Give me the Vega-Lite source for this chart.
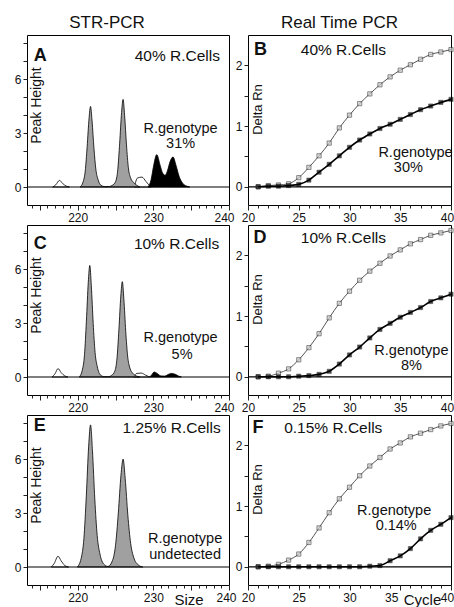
{
"$schema": "https://vega.github.io/schema/vega-lite/v6.json",
"padding": {"left": 13, "top": 13, "right": 0, "bottom": 0},
"config": {
 "font": "Liberation Sans",
 "view": {"stroke": "#000", "strokeWidth": 1},
 "axis": {"grid": false, "domain": false, "labelFontSize": 12, "labelColor": "#111", "tickColor": "#222", "labelFlush": false, "labelOverlap": false, "labelPadding": 2, "titleColor": "#111", "titleFontWeight": "normal", "tickCount": 60},
 "title": {"fontSize": 17, "fontWeight": "normal", "color": "#111"},
 "text": {"color": "#111"}
},
"datasets": {
 "str": [
  {"p":"A","s":"w","x":216.7,"y":0},{"p":"A","s":"w","x":217.1,"y":0.12},{"p":"A","s":"w","x":217.6,"y":0.37},{"p":"A","s":"w","x":218.0,"y":0.2},{"p":"A","s":"w","x":218.5,"y":0.05},{"p":"A","s":"w","x":218.9,"y":0},
  {"p":"A","s":"sh","x":227.5,"y":0},{"p":"A","s":"sh","x":227.9,"y":0.5},{"p":"A","s":"sh","x":228.5,"y":0.55},{"p":"A","s":"sh","x":229.0,"y":0.32},{"p":"A","s":"sh","x":229.4,"y":0.12},{"p":"A","s":"sh","x":229.7,"y":0},
  {"p":"A","s":"g","x":220.3,"y":0},{"p":"A","s":"g","x":220.7,"y":0.27},{"p":"A","s":"g","x":221.0,"y":0.9},{"p":"A","s":"g","x":221.25,"y":2.24},{"p":"A","s":"g","x":221.5,"y":3.81},{"p":"A","s":"g","x":221.7,"y":4.48},{"p":"A","s":"g","x":221.9,"y":3.67},{"p":"A","s":"g","x":222.15,"y":2.15},{"p":"A","s":"g","x":222.4,"y":0.99},{"p":"A","s":"g","x":222.7,"y":0.4},{"p":"A","s":"g","x":223.1,"y":0.09},{"p":"A","s":"g","x":223.6,"y":0.02},{"p":"A","s":"g","x":224.2,"y":0.03},{"p":"A","s":"g","x":224.6,"y":0.1},{"p":"A","s":"g","x":225.0,"y":0.29},{"p":"A","s":"g","x":225.3,"y":0.97},{"p":"A","s":"g","x":225.55,"y":2.44},{"p":"A","s":"g","x":225.8,"y":4.14},{"p":"A","s":"g","x":226.0,"y":4.87},{"p":"A","s":"g","x":226.2,"y":3.99},{"p":"A","s":"g","x":226.45,"y":2.34},{"p":"A","s":"g","x":226.7,"y":1.07},{"p":"A","s":"g","x":227.0,"y":0.5},{"p":"A","s":"g","x":227.4,"y":0.25},{"p":"A","s":"g","x":227.8,"y":0.1},{"p":"A","s":"g","x":228.2,"y":0},
  {"p":"A","s":"b","x":229.3,"y":0},{"p":"A","s":"b","x":229.7,"y":0.4},{"p":"A","s":"b","x":230.0,"y":1.1},{"p":"A","s":"b","x":230.45,"y":1.8},{"p":"A","s":"b","x":230.9,"y":1.2},{"p":"A","s":"b","x":231.2,"y":0.8},{"p":"A","s":"b","x":231.55,"y":0.65},{"p":"A","s":"b","x":231.9,"y":0.95},{"p":"A","s":"b","x":232.2,"y":1.4},{"p":"A","s":"b","x":232.6,"y":1.67},{"p":"A","s":"b","x":233.0,"y":1.2},{"p":"A","s":"b","x":233.4,"y":0.6},{"p":"A","s":"b","x":233.9,"y":0.2},{"p":"A","s":"b","x":234.4,"y":0.05},{"p":"A","s":"b","x":234.8,"y":0},
  {"p":"C","s":"w","x":216.6,"y":0},{"p":"C","s":"w","x":217.0,"y":0.18},{"p":"C","s":"w","x":217.4,"y":0.47},{"p":"C","s":"w","x":217.8,"y":0.25},{"p":"C","s":"w","x":218.3,"y":0.06},{"p":"C","s":"w","x":218.7,"y":0},
  {"p":"C","s":"sh","x":227.4,"y":0},{"p":"C","s":"sh","x":227.8,"y":0.2},{"p":"C","s":"sh","x":228.4,"y":0.22},{"p":"C","s":"sh","x":229.0,"y":0.1},{"p":"C","s":"sh","x":229.5,"y":0},
  {"p":"C","s":"g","x":220.2,"y":0},{"p":"C","s":"g","x":220.6,"y":0.37},{"p":"C","s":"g","x":220.9,"y":1.24},{"p":"C","s":"g","x":221.15,"y":3.1},{"p":"C","s":"g","x":221.4,"y":5.27},{"p":"C","s":"g","x":221.6,"y":6.2},{"p":"C","s":"g","x":221.8,"y":5.08},{"p":"C","s":"g","x":222.05,"y":2.98},{"p":"C","s":"g","x":222.3,"y":1.36},{"p":"C","s":"g","x":222.6,"y":0.56},{"p":"C","s":"g","x":223.0,"y":0.12},{"p":"C","s":"g","x":223.5,"y":0.02},{"p":"C","s":"g","x":224.1,"y":0.02},{"p":"C","s":"g","x":224.5,"y":0.1},{"p":"C","s":"g","x":224.9,"y":0.32},{"p":"C","s":"g","x":225.2,"y":1.06},{"p":"C","s":"g","x":225.45,"y":2.65},{"p":"C","s":"g","x":225.7,"y":4.5},{"p":"C","s":"g","x":225.9,"y":5.3},{"p":"C","s":"g","x":226.1,"y":4.35},{"p":"C","s":"g","x":226.35,"y":2.54},{"p":"C","s":"g","x":226.6,"y":1.17},{"p":"C","s":"g","x":226.9,"y":0.5},{"p":"C","s":"g","x":227.3,"y":0.2},{"p":"C","s":"g","x":227.8,"y":0.05},{"p":"C","s":"g","x":228.2,"y":0},
  {"p":"C","s":"b","x":229.5,"y":0},{"p":"C","s":"b","x":229.8,"y":0.12},{"p":"C","s":"b","x":230.1,"y":0.28},{"p":"C","s":"b","x":230.5,"y":0.2},{"p":"C","s":"b","x":231.0,"y":0.06},{"p":"C","s":"b","x":231.5,"y":0.05},{"p":"C","s":"b","x":231.9,"y":0.13},{"p":"C","s":"b","x":232.4,"y":0.2},{"p":"C","s":"b","x":232.9,"y":0.15},{"p":"C","s":"b","x":233.3,"y":0.06},{"p":"C","s":"b","x":233.7,"y":0},
  {"p":"E","s":"w","x":216.5,"y":0},{"p":"E","s":"w","x":216.9,"y":0.2},{"p":"E","s":"w","x":217.4,"y":0.6},{"p":"E","s":"w","x":217.8,"y":0.35},{"p":"E","s":"w","x":218.3,"y":0.08},{"p":"E","s":"w","x":218.8,"y":0},
  {"p":"E","s":"g","x":219.95,"y":0},{"p":"E","s":"g","x":220.45,"y":0.47},{"p":"E","s":"g","x":220.82,"y":1.58},{"p":"E","s":"g","x":221.14,"y":3.95},{"p":"E","s":"g","x":221.45,"y":6.72},{"p":"E","s":"g","x":221.7,"y":7.9},{"p":"E","s":"g","x":221.95,"y":6.48},{"p":"E","s":"g","x":222.26,"y":3.79},{"p":"E","s":"g","x":222.58,"y":1.74},{"p":"E","s":"g","x":222.95,"y":0.71},{"p":"E","s":"g","x":223.45,"y":0.16},{"p":"E","s":"g","x":224.0,"y":0.03},{"p":"E","s":"g","x":224.6,"y":0.36},{"p":"E","s":"g","x":225.0,"y":1.2},{"p":"E","s":"g","x":225.37,"y":3.0},{"p":"E","s":"g","x":225.72,"y":5.1},{"p":"E","s":"g","x":226.0,"y":6.0},{"p":"E","s":"g","x":226.28,"y":4.92},{"p":"E","s":"g","x":226.63,"y":2.88},{"p":"E","s":"g","x":227.0,"y":1.32},{"p":"E","s":"g","x":227.4,"y":0.54},{"p":"E","s":"g","x":228.0,"y":0.12},{"p":"E","s":"g","x":228.6,"y":0}
 ],
 "qpcr": [
  {"p":"B","s":"o","x":21,"y":0},{"p":"B","s":"o","x":22,"y":0.02},{"p":"B","s":"o","x":23,"y":0.03},{"p":"B","s":"o","x":24,"y":0.05},{"p":"B","s":"o","x":25,"y":0.15},{"p":"B","s":"o","x":26,"y":0.32},{"p":"B","s":"o","x":27,"y":0.51},{"p":"B","s":"o","x":28,"y":0.72},{"p":"B","s":"o","x":29,"y":0.97},{"p":"B","s":"o","x":30,"y":1.18},{"p":"B","s":"o","x":31,"y":1.37},{"p":"B","s":"o","x":32,"y":1.53},{"p":"B","s":"o","x":33,"y":1.68},{"p":"B","s":"o","x":34,"y":1.81},{"p":"B","s":"o","x":35,"y":1.92},{"p":"B","s":"o","x":36,"y":2.01},{"p":"B","s":"o","x":37,"y":2.1},{"p":"B","s":"o","x":38,"y":2.18},{"p":"B","s":"o","x":39,"y":2.22},{"p":"B","s":"o","x":40,"y":2.26},
  {"p":"B","s":"f","x":21,"y":0},{"p":"B","s":"f","x":22,"y":0.01},{"p":"B","s":"f","x":23,"y":0.01},{"p":"B","s":"f","x":24,"y":0.02},{"p":"B","s":"f","x":25,"y":0.04},{"p":"B","s":"f","x":26,"y":0.11},{"p":"B","s":"f","x":27,"y":0.24},{"p":"B","s":"f","x":28,"y":0.37},{"p":"B","s":"f","x":29,"y":0.51},{"p":"B","s":"f","x":30,"y":0.65},{"p":"B","s":"f","x":31,"y":0.77},{"p":"B","s":"f","x":32,"y":0.87},{"p":"B","s":"f","x":33,"y":0.96},{"p":"B","s":"f","x":34,"y":1.03},{"p":"B","s":"f","x":35,"y":1.11},{"p":"B","s":"f","x":36,"y":1.19},{"p":"B","s":"f","x":37,"y":1.27},{"p":"B","s":"f","x":38,"y":1.33},{"p":"B","s":"f","x":39,"y":1.39},{"p":"B","s":"f","x":40,"y":1.44},
  {"p":"D","s":"o","x":21,"y":0},{"p":"D","s":"o","x":22,"y":0.01},{"p":"D","s":"o","x":23,"y":0.06},{"p":"D","s":"o","x":24,"y":0.13},{"p":"D","s":"o","x":25,"y":0.28},{"p":"D","s":"o","x":26,"y":0.48},{"p":"D","s":"o","x":27,"y":0.71},{"p":"D","s":"o","x":28,"y":0.97},{"p":"D","s":"o","x":29,"y":1.21},{"p":"D","s":"o","x":30,"y":1.41},{"p":"D","s":"o","x":31,"y":1.59},{"p":"D","s":"o","x":32,"y":1.74},{"p":"D","s":"o","x":33,"y":1.87},{"p":"D","s":"o","x":34,"y":1.99},{"p":"D","s":"o","x":35,"y":2.09},{"p":"D","s":"o","x":36,"y":2.19},{"p":"D","s":"o","x":37,"y":2.26},{"p":"D","s":"o","x":38,"y":2.33},{"p":"D","s":"o","x":39,"y":2.37},{"p":"D","s":"o","x":40,"y":2.41},
  {"p":"D","s":"f","x":21,"y":0},{"p":"D","s":"f","x":22,"y":0},{"p":"D","s":"f","x":23,"y":0},{"p":"D","s":"f","x":24,"y":0},{"p":"D","s":"f","x":25,"y":0.01},{"p":"D","s":"f","x":26,"y":0.02},{"p":"D","s":"f","x":27,"y":0.04},{"p":"D","s":"f","x":28,"y":0.09},{"p":"D","s":"f","x":29,"y":0.21},{"p":"D","s":"f","x":30,"y":0.36},{"p":"D","s":"f","x":31,"y":0.49},{"p":"D","s":"f","x":32,"y":0.64},{"p":"D","s":"f","x":33,"y":0.78},{"p":"D","s":"f","x":34,"y":0.88},{"p":"D","s":"f","x":35,"y":0.98},{"p":"D","s":"f","x":36,"y":1.06},{"p":"D","s":"f","x":37,"y":1.14},{"p":"D","s":"f","x":38,"y":1.24},{"p":"D","s":"f","x":39,"y":1.3},{"p":"D","s":"f","x":40,"y":1.36},
  {"p":"F","s":"o","x":21,"y":0},{"p":"F","s":"o","x":22,"y":0.01},{"p":"F","s":"o","x":23,"y":0.04},{"p":"F","s":"o","x":24,"y":0.11},{"p":"F","s":"o","x":25,"y":0.21},{"p":"F","s":"o","x":26,"y":0.4},{"p":"F","s":"o","x":27,"y":0.64},{"p":"F","s":"o","x":28,"y":0.89},{"p":"F","s":"o","x":29,"y":1.12},{"p":"F","s":"o","x":30,"y":1.31},{"p":"F","s":"o","x":31,"y":1.5},{"p":"F","s":"o","x":32,"y":1.66},{"p":"F","s":"o","x":33,"y":1.8},{"p":"F","s":"o","x":34,"y":1.94},{"p":"F","s":"o","x":35,"y":2.04},{"p":"F","s":"o","x":36,"y":2.14},{"p":"F","s":"o","x":37,"y":2.2},{"p":"F","s":"o","x":38,"y":2.26},{"p":"F","s":"o","x":39,"y":2.32},{"p":"F","s":"o","x":40,"y":2.36},
  {"p":"F","s":"f","x":21,"y":0},{"p":"F","s":"f","x":22,"y":0},{"p":"F","s":"f","x":23,"y":0},{"p":"F","s":"f","x":24,"y":0},{"p":"F","s":"f","x":25,"y":0},{"p":"F","s":"f","x":26,"y":0},{"p":"F","s":"f","x":27,"y":0},{"p":"F","s":"f","x":28,"y":0},{"p":"F","s":"f","x":29,"y":0},{"p":"F","s":"f","x":30,"y":0},{"p":"F","s":"f","x":31,"y":0},{"p":"F","s":"f","x":32,"y":0.01},{"p":"F","s":"f","x":33,"y":0.02},{"p":"F","s":"f","x":34,"y":0.1},{"p":"F","s":"f","x":35,"y":0.18},{"p":"F","s":"f","x":36,"y":0.3},{"p":"F","s":"f","x":37,"y":0.46},{"p":"F","s":"f","x":38,"y":0.6},{"p":"F","s":"f","x":39,"y":0.7},{"p":"F","s":"f","x":40,"y":0.81}
 ],
 "notes": [
  {"p":"A","k":"l","x":214.2,"y":7.3,"t":"A"},{"p":"A","k":"c","x":238.8,"y":7.3,"t":"40% R.Cells"},{"p":"A","k":"g","x":233.6,"y":3.2,"t":"R.genotype"},{"p":"A","k":"g","x":233.6,"y":2.4,"t":"31%"},
  {"p":"C","k":"l","x":214.2,"y":7.4,"t":"C"},{"p":"C","k":"c","x":238.7,"y":7.4,"t":"10% R.Cells"},{"p":"C","k":"g","x":233.6,"y":2.15,"t":"R.genotype"},{"p":"C","k":"g","x":233.8,"y":1.25,"t":"5%"},
  {"p":"E","k":"l","x":214.2,"y":7.85,"t":"E"},{"p":"E","k":"c","x":238.9,"y":7.75,"t":"1.25% R.Cells"},{"p":"E","k":"g","x":234.2,"y":1.55,"t":"R.genotype"},{"p":"E","k":"g","x":234.2,"y":0.65,"t":"undetected"},
  {"p":"B","k":"l","x":20.6,"y":2.25,"t":"B"},{"p":"B","k":"c","x":29.4,"y":2.25,"t":"40% R.Cells"},{"p":"B","k":"g","x":36.5,"y":0.55,"t":"R.genotype"},{"p":"B","k":"g","x":35.8,"y":0.31,"t":"30%"},
  {"p":"D","k":"l","x":20.55,"y":2.28,"t":"D"},{"p":"D","k":"c","x":29.4,"y":2.28,"t":"10% R.Cells"},{"p":"D","k":"g","x":36.1,"y":0.43,"t":"R.genotype"},{"p":"D","k":"g","x":36.1,"y":0.18,"t":"8%"},
  {"p":"F","k":"l","x":20.45,"y":2.29,"t":"F"},{"p":"F","k":"c","x":28.4,"y":2.29,"t":"0.15% R.Cells"},{"p":"F","k":"g","x":34.4,"y":0.92,"t":"R.genotype"},{"p":"F","k":"g","x":34.6,"y":0.67,"t":"0.14%"}
 ]
},
"columns": 2,
"spacing": {"row": 20, "column": 19},
"bounds": "flush",
"concat": [
 {"width": 202, "height": 170,
  "title": {"text": "STR-PCR", "anchor": "middle", "dx": -21, "offset": 3},
  "layer": [
   {"data": {"name": "str"}, "transform": [{"filter": "datum.p == 'A' && (datum.s == 'w' || datum.s == 'sh')"}],
    "mark": {"type": "area", "interpolate": "monotone", "fill": "#fff", "stroke": "#000", "strokeWidth": 0.8, "clip": true},
    "encoding": {
     "x": {"field": "x", "type": "quantitative", "scale": {"domain": [213.3, 240], "nice": false}, "axis": {"values": [214,215,216,217,218,219,220,221,222,223,224,225,226,227,228,229,230,231,232,233,234,235,236,237,238,239,240], "tickCount": 60, "labelOverlap": false, "labelExpr": "datum.value % 10 == 0 ? format(datum.value, 'd') : ''", "labelOffset": {"condition": {"test": "datum.value == 240", "value": -5}, "value": 0}, "tickSize": {"condition": {"test": "datum.value % 5 == 0", "value": 5}, "value": 3}, "title": null}},
     "y": {"field": "y", "type": "quantitative", "stack": null, "scale": {"domain": [-1, 8.45], "nice": false}, "axis": {"values": [0,1,2,3,4,5,6,7,8], "tickCount": 60, "labelOverlap": false, "labelExpr": "datum.value % 3 == 0 ? format(datum.value, 'd') : ''", "tickSize": 4, "title": "Peak Height", "titleX": 9, "titleY": 70, "titleAngle": -90, "titleAlign": "center", "titleBaseline": "middle", "titleFontSize": 14}},
     "detail": {"field": "s"}}},
   {"data": {"name": "str"}, "transform": [{"filter": "datum.p == 'A' && datum.s == 'g'"}],
    "mark": {"type": "area", "interpolate": "monotone", "fill": "#a0a0a0", "stroke": "#000", "strokeWidth": 0.8, "clip": true},
    "encoding": {"x": {"field": "x", "type": "quantitative"}, "y": {"field": "y", "type": "quantitative", "stack": null}}},
   {"data": {"name": "str"}, "transform": [{"filter": "datum.p == 'A' && datum.s == 'b'"}],
    "mark": {"type": "area", "interpolate": "monotone", "fill": "#000", "stroke": "#000", "strokeWidth": 0.8, "clip": true},
    "encoding": {"x": {"field": "x", "type": "quantitative"}, "y": {"field": "y", "type": "quantitative", "stack": null}}},
   {"data": {"name": "notes"}, "transform": [{"filter": "datum.p == 'A' && datum.k == 'l'"}],
    "mark": {"type": "rule", "color": "#000", "strokeWidth": 1.2},
    "encoding": {"y": {"datum": 0, "type": "quantitative"}}},
   {"data": {"name": "notes"}, "transform": [{"filter": "datum.p == 'A' && datum.k == 'l'"}],
    "mark": {"type": "text", "align": "left", "baseline": "middle", "fontSize": 18, "fontWeight": "bold"},
    "encoding": {"x": {"field": "x", "type": "quantitative"}, "y": {"field": "y", "type": "quantitative"}, "text": {"field": "t"}}},
   {"data": {"name": "notes"}, "transform": [{"filter": "datum.p == 'A' && datum.k == 'c'"}],
    "mark": {"type": "text", "align": "right", "baseline": "middle", "fontSize": 15.5},
    "encoding": {"x": {"field": "x", "type": "quantitative"}, "y": {"field": "y", "type": "quantitative"}, "text": {"field": "t"}}},
   {"data": {"name": "notes"}, "transform": [{"filter": "datum.p == 'A' && datum.k == 'g'"}],
    "mark": {"type": "text", "align": "center", "baseline": "middle", "fontSize": 14.5},
    "encoding": {"x": {"field": "x", "type": "quantitative"}, "y": {"field": "y", "type": "quantitative"}, "text": {"field": "t"}}}
  ]},
 {"width": 203, "height": 170,
  "title": {"text": "Real Time PCR", "anchor": "middle", "dx": -10, "offset": 3},
  "layer": [
   {"data": {"name": "qpcr"}, "transform": [{"filter": "datum.p == 'B' && datum.s == 'o'"}],
    "mark": {"type": "line", "interpolate": "monotone", "color": "#555", "strokeWidth": 1},
    "encoding": {
     "x": {"field": "x", "type": "quantitative", "scale": {"domain": [20, 40], "nice": false}, "axis": {"values": [20,21,22,23,24,25,26,27,28,29,30,31,32,33,34,35,36,37,38,39,40], "tickCount": 60, "labelOverlap": false, "labelExpr": "datum.value % 5 == 0 ? format(datum.value, 'd') : ''", "labelOffset": {"condition": {"test": "datum.value == 40", "value": -4}, "value": 0}, "tickSize": {"condition": {"test": "datum.value % 5 == 0", "value": 5}, "value": 3}, "title": null}},
     "y": {"field": "y", "type": "quantitative", "scale": {"domain": [-0.3, 2.5], "nice": false}, "axis": {"values": [0,0.5,1,1.5,2], "tickCount": 60, "labelOverlap": false, "labelExpr": "datum.value % 1 == 0 ? format(datum.value, 'd') : ''", "tickSize": 4, "title": "Delta Rn", "titleX": 9, "titleY": 74, "titleAngle": -90, "titleAlign": "center", "titleBaseline": "middle", "titleFontSize": 13}}}},
   {"data": {"name": "notes"}, "transform": [{"filter": "datum.p == 'B' && datum.k == 'l'"}],
    "mark": {"type": "rule", "color": "#000", "strokeWidth": 1.2},
    "encoding": {"y": {"datum": 0, "type": "quantitative"}}},
   {"data": {"name": "qpcr"}, "transform": [{"filter": "datum.p == 'B' && datum.s == 'o'"}],
    "mark": {"type": "point", "shape": "square", "size": 18, "filled": true, "fill": "#cfcfcf", "stroke": "#333", "strokeWidth": 0.8},
    "encoding": {"x": {"field": "x", "type": "quantitative"}, "y": {"field": "y", "type": "quantitative"}}},
   {"data": {"name": "qpcr"}, "transform": [{"filter": "datum.p == 'B' && datum.s == 'f'"}],
    "mark": {"type": "line", "interpolate": "monotone", "color": "#000", "strokeWidth": 1.6},
    "encoding": {"x": {"field": "x", "type": "quantitative"}, "y": {"field": "y", "type": "quantitative"}}},
   {"data": {"name": "qpcr"}, "transform": [{"filter": "datum.p == 'B' && datum.s == 'f'"}],
    "mark": {"type": "point", "shape": "square", "size": 18, "filled": true, "fill": "#000", "stroke": "#000", "strokeWidth": 0.5},
    "encoding": {"x": {"field": "x", "type": "quantitative"}, "y": {"field": "y", "type": "quantitative"}}},
   {"data": {"name": "notes"}, "transform": [{"filter": "datum.p == 'B' && datum.k == 'l'"}],
    "mark": {"type": "text", "align": "left", "baseline": "middle", "fontSize": 18, "fontWeight": "bold"},
    "encoding": {"x": {"field": "x", "type": "quantitative"}, "y": {"field": "y", "type": "quantitative"}, "text": {"field": "t"}}},
   {"data": {"name": "notes"}, "transform": [{"filter": "datum.p == 'B' && datum.k == 'c'"}],
    "mark": {"type": "text", "align": "center", "baseline": "middle", "fontSize": 15.5},
    "encoding": {"x": {"field": "x", "type": "quantitative"}, "y": {"field": "y", "type": "quantitative"}, "text": {"field": "t"}}},
   {"data": {"name": "notes"}, "transform": [{"filter": "datum.p == 'B' && datum.k == 'g'"}],
    "mark": {"type": "text", "align": "center", "baseline": "middle", "fontSize": 14.5},
    "encoding": {"x": {"field": "x", "type": "quantitative"}, "y": {"field": "y", "type": "quantitative"}, "text": {"field": "t"}}}
  ]},
 {"width": 202, "height": 170,
  "layer": [
   {"data": {"name": "str"}, "transform": [{"filter": "datum.p == 'C' && (datum.s == 'w' || datum.s == 'sh')"}],
    "mark": {"type": "area", "interpolate": "monotone", "fill": "#fff", "stroke": "#000", "strokeWidth": 0.8, "clip": true},
    "encoding": {
     "x": {"field": "x", "type": "quantitative", "scale": {"domain": [213.3, 240], "nice": false}, "axis": {"values": [214,215,216,217,218,219,220,221,222,223,224,225,226,227,228,229,230,231,232,233,234,235,236,237,238,239,240], "tickCount": 60, "labelOverlap": false, "labelExpr": "datum.value % 10 == 0 ? format(datum.value, 'd') : ''", "labelOffset": {"condition": {"test": "datum.value == 240", "value": -5}, "value": 0}, "tickSize": {"condition": {"test": "datum.value % 5 == 0", "value": 5}, "value": 3}, "title": null}},
     "y": {"field": "y", "type": "quantitative", "stack": null, "scale": {"domain": [-1, 8.45], "nice": false}, "axis": {"values": [0,1,2,3,4,5,6,7,8], "tickCount": 60, "labelOverlap": false, "labelExpr": "datum.value % 3 == 0 ? format(datum.value, 'd') : ''", "tickSize": 4, "title": "Peak Height", "titleX": 9, "titleY": 70, "titleAngle": -90, "titleAlign": "center", "titleBaseline": "middle", "titleFontSize": 14}},
     "detail": {"field": "s"}}},
   {"data": {"name": "str"}, "transform": [{"filter": "datum.p == 'C' && datum.s == 'g'"}],
    "mark": {"type": "area", "interpolate": "monotone", "fill": "#a0a0a0", "stroke": "#000", "strokeWidth": 0.8, "clip": true},
    "encoding": {"x": {"field": "x", "type": "quantitative"}, "y": {"field": "y", "type": "quantitative", "stack": null}}},
   {"data": {"name": "str"}, "transform": [{"filter": "datum.p == 'C' && datum.s == 'b'"}],
    "mark": {"type": "area", "interpolate": "monotone", "fill": "#000", "stroke": "#000", "strokeWidth": 0.8, "clip": true},
    "encoding": {"x": {"field": "x", "type": "quantitative"}, "y": {"field": "y", "type": "quantitative", "stack": null}}},
   {"data": {"name": "notes"}, "transform": [{"filter": "datum.p == 'C' && datum.k == 'l'"}],
    "mark": {"type": "rule", "color": "#000", "strokeWidth": 1.2},
    "encoding": {"y": {"datum": 0, "type": "quantitative"}}},
   {"data": {"name": "notes"}, "transform": [{"filter": "datum.p == 'C' && datum.k == 'l'"}],
    "mark": {"type": "text", "align": "left", "baseline": "middle", "fontSize": 18, "fontWeight": "bold"},
    "encoding": {"x": {"field": "x", "type": "quantitative"}, "y": {"field": "y", "type": "quantitative"}, "text": {"field": "t"}}},
   {"data": {"name": "notes"}, "transform": [{"filter": "datum.p == 'C' && datum.k == 'c'"}],
    "mark": {"type": "text", "align": "right", "baseline": "middle", "fontSize": 15.5},
    "encoding": {"x": {"field": "x", "type": "quantitative"}, "y": {"field": "y", "type": "quantitative"}, "text": {"field": "t"}}},
   {"data": {"name": "notes"}, "transform": [{"filter": "datum.p == 'C' && datum.k == 'g'"}],
    "mark": {"type": "text", "align": "center", "baseline": "middle", "fontSize": 14.5},
    "encoding": {"x": {"field": "x", "type": "quantitative"}, "y": {"field": "y", "type": "quantitative"}, "text": {"field": "t"}}}
  ]},
 {"width": 203, "height": 170,
  "layer": [
   {"data": {"name": "qpcr"}, "transform": [{"filter": "datum.p == 'D' && datum.s == 'o'"}],
    "mark": {"type": "line", "interpolate": "monotone", "color": "#555", "strokeWidth": 1},
    "encoding": {
     "x": {"field": "x", "type": "quantitative", "scale": {"domain": [20, 40], "nice": false}, "axis": {"values": [20,21,22,23,24,25,26,27,28,29,30,31,32,33,34,35,36,37,38,39,40], "tickCount": 60, "labelOverlap": false, "labelExpr": "datum.value % 5 == 0 ? format(datum.value, 'd') : ''", "labelOffset": {"condition": {"test": "datum.value == 40", "value": -4}, "value": 0}, "tickSize": {"condition": {"test": "datum.value % 5 == 0", "value": 5}, "value": 3}, "title": null}},
     "y": {"field": "y", "type": "quantitative", "scale": {"domain": [-0.3, 2.5], "nice": false}, "axis": {"values": [0,0.5,1,1.5,2], "tickCount": 60, "labelOverlap": false, "labelExpr": "datum.value % 1 == 0 ? format(datum.value, 'd') : ''", "tickSize": 4, "title": "Delta Rn", "titleX": 9, "titleY": 74, "titleAngle": -90, "titleAlign": "center", "titleBaseline": "middle", "titleFontSize": 13}}}},
   {"data": {"name": "notes"}, "transform": [{"filter": "datum.p == 'D' && datum.k == 'l'"}],
    "mark": {"type": "rule", "color": "#000", "strokeWidth": 1.2},
    "encoding": {"y": {"datum": 0, "type": "quantitative"}}},
   {"data": {"name": "qpcr"}, "transform": [{"filter": "datum.p == 'D' && datum.s == 'o'"}],
    "mark": {"type": "point", "shape": "square", "size": 18, "filled": true, "fill": "#cfcfcf", "stroke": "#333", "strokeWidth": 0.8},
    "encoding": {"x": {"field": "x", "type": "quantitative"}, "y": {"field": "y", "type": "quantitative"}}},
   {"data": {"name": "qpcr"}, "transform": [{"filter": "datum.p == 'D' && datum.s == 'f'"}],
    "mark": {"type": "line", "interpolate": "monotone", "color": "#000", "strokeWidth": 1.6},
    "encoding": {"x": {"field": "x", "type": "quantitative"}, "y": {"field": "y", "type": "quantitative"}}},
   {"data": {"name": "qpcr"}, "transform": [{"filter": "datum.p == 'D' && datum.s == 'f'"}],
    "mark": {"type": "point", "shape": "square", "size": 18, "filled": true, "fill": "#000", "stroke": "#000", "strokeWidth": 0.5},
    "encoding": {"x": {"field": "x", "type": "quantitative"}, "y": {"field": "y", "type": "quantitative"}}},
   {"data": {"name": "notes"}, "transform": [{"filter": "datum.p == 'D' && datum.k == 'l'"}],
    "mark": {"type": "text", "align": "left", "baseline": "middle", "fontSize": 18, "fontWeight": "bold"},
    "encoding": {"x": {"field": "x", "type": "quantitative"}, "y": {"field": "y", "type": "quantitative"}, "text": {"field": "t"}}},
   {"data": {"name": "notes"}, "transform": [{"filter": "datum.p == 'D' && datum.k == 'c'"}],
    "mark": {"type": "text", "align": "center", "baseline": "middle", "fontSize": 15.5},
    "encoding": {"x": {"field": "x", "type": "quantitative"}, "y": {"field": "y", "type": "quantitative"}, "text": {"field": "t"}}},
   {"data": {"name": "notes"}, "transform": [{"filter": "datum.p == 'D' && datum.k == 'g'"}],
    "mark": {"type": "text", "align": "center", "baseline": "middle", "fontSize": 14.5},
    "encoding": {"x": {"field": "x", "type": "quantitative"}, "y": {"field": "y", "type": "quantitative"}, "text": {"field": "t"}}}
  ]},
 {"width": 202, "height": 170,
  "layer": [
   {"data": {"name": "str"}, "transform": [{"filter": "datum.p == 'E' && datum.s == 'w'"}],
    "mark": {"type": "area", "interpolate": "monotone", "fill": "#fff", "stroke": "#000", "strokeWidth": 0.8, "clip": true},
    "encoding": {
     "x": {"field": "x", "type": "quantitative", "scale": {"domain": [213.3, 240], "nice": false}, "axis": {"values": [214,215,216,217,218,219,220,221,222,223,224,225,226,227,228,229,230,231,232,233,234,235,236,237,238,239,240], "tickCount": 60, "labelOverlap": false, "labelExpr": "datum.value % 10 == 0 ? format(datum.value, 'd') : ''", "labelOffset": {"condition": {"test": "datum.value == 240", "value": -3}, "value": 0}, "tickSize": {"condition": {"test": "datum.value % 5 == 0", "value": 5}, "value": 3}, "title": "Size", "titleX": 161.5, "titleY": 19, "titleAngle": 0, "titleAlign": "center", "titleBaseline": "alphabetic", "titleFontSize": 15}},
     "y": {"field": "y", "type": "quantitative", "stack": null, "scale": {"domain": [-1, 8.45], "nice": false}, "axis": {"values": [0,1,2,3,4,5,6,7,8], "tickCount": 60, "labelOverlap": false, "labelExpr": "datum.value % 3 == 0 ? format(datum.value, 'd') : ''", "tickSize": 4, "title": "Peak Height", "titleX": 9, "titleY": 70, "titleAngle": -90, "titleAlign": "center", "titleBaseline": "middle", "titleFontSize": 14}}}},
   {"data": {"name": "str"}, "transform": [{"filter": "datum.p == 'E' && datum.s == 'g'"}],
    "mark": {"type": "area", "interpolate": "monotone", "fill": "#a0a0a0", "stroke": "#000", "strokeWidth": 0.8, "clip": true},
    "encoding": {"x": {"field": "x", "type": "quantitative"}, "y": {"field": "y", "type": "quantitative", "stack": null}}},
   {"data": {"name": "notes"}, "transform": [{"filter": "datum.p == 'E' && datum.k == 'l'"}],
    "mark": {"type": "rule", "color": "#000", "strokeWidth": 1.2},
    "encoding": {"y": {"datum": 0, "type": "quantitative"}}},
   {"data": {"name": "notes"}, "transform": [{"filter": "datum.p == 'E' && datum.k == 'l'"}],
    "mark": {"type": "text", "align": "left", "baseline": "middle", "fontSize": 18, "fontWeight": "bold"},
    "encoding": {"x": {"field": "x", "type": "quantitative"}, "y": {"field": "y", "type": "quantitative"}, "text": {"field": "t"}}},
   {"data": {"name": "notes"}, "transform": [{"filter": "datum.p == 'E' && datum.k == 'c'"}],
    "mark": {"type": "text", "align": "right", "baseline": "middle", "fontSize": 15.5},
    "encoding": {"x": {"field": "x", "type": "quantitative"}, "y": {"field": "y", "type": "quantitative"}, "text": {"field": "t"}}},
   {"data": {"name": "notes"}, "transform": [{"filter": "datum.p == 'E' && datum.k == 'g'"}],
    "mark": {"type": "text", "align": "center", "baseline": "middle", "fontSize": 14.5},
    "encoding": {"x": {"field": "x", "type": "quantitative"}, "y": {"field": "y", "type": "quantitative"}, "text": {"field": "t"}}}
  ]},
 {"width": 203, "height": 170,
  "layer": [
   {"data": {"name": "qpcr"}, "transform": [{"filter": "datum.p == 'F' && datum.s == 'o'"}],
    "mark": {"type": "line", "interpolate": "monotone", "color": "#555", "strokeWidth": 1},
    "encoding": {
     "x": {"field": "x", "type": "quantitative", "scale": {"domain": [20, 40], "nice": false}, "axis": {"values": [20,21,22,23,24,25,26,27,28,29,30,31,32,33,34,35,36,37,38,39,40], "tickCount": 60, "labelOverlap": false, "labelExpr": "datum.value % 5 == 0 ? format(datum.value, 'd') : ''", "labelOffset": {"condition": [{"test": "datum.value == 35", "value": -9}, {"test": "datum.value == 40", "value": -4}], "value": 0}, "tickSize": {"condition": {"test": "datum.value % 5 == 0", "value": 5}, "value": 3}, "title": "Cycle", "titleX": 174, "titleY": 19, "titleAngle": 0, "titleAlign": "center", "titleBaseline": "alphabetic", "titleFontSize": 15}},
     "y": {"field": "y", "type": "quantitative", "scale": {"domain": [-0.3, 2.5], "nice": false}, "axis": {"values": [0,0.5,1,1.5,2], "tickCount": 60, "labelOverlap": false, "labelExpr": "datum.value % 1 == 0 ? format(datum.value, 'd') : ''", "tickSize": 4, "title": "Delta Rn", "titleX": 9, "titleY": 74, "titleAngle": -90, "titleAlign": "center", "titleBaseline": "middle", "titleFontSize": 13}}}},
   {"data": {"name": "notes"}, "transform": [{"filter": "datum.p == 'F' && datum.k == 'l'"}],
    "mark": {"type": "rule", "color": "#000", "strokeWidth": 1.2},
    "encoding": {"y": {"datum": 0, "type": "quantitative"}}},
   {"data": {"name": "qpcr"}, "transform": [{"filter": "datum.p == 'F' && datum.s == 'o'"}],
    "mark": {"type": "point", "shape": "square", "size": 18, "filled": true, "fill": "#cfcfcf", "stroke": "#333", "strokeWidth": 0.8},
    "encoding": {"x": {"field": "x", "type": "quantitative"}, "y": {"field": "y", "type": "quantitative"}}},
   {"data": {"name": "qpcr"}, "transform": [{"filter": "datum.p == 'F' && datum.s == 'f'"}],
    "mark": {"type": "line", "interpolate": "monotone", "color": "#000", "strokeWidth": 1.6},
    "encoding": {"x": {"field": "x", "type": "quantitative"}, "y": {"field": "y", "type": "quantitative"}}},
   {"data": {"name": "qpcr"}, "transform": [{"filter": "datum.p == 'F' && datum.s == 'f'"}],
    "mark": {"type": "point", "shape": "square", "size": 18, "filled": true, "fill": "#000", "stroke": "#000", "strokeWidth": 0.5},
    "encoding": {"x": {"field": "x", "type": "quantitative"}, "y": {"field": "y", "type": "quantitative"}}},
   {"data": {"name": "notes"}, "transform": [{"filter": "datum.p == 'F' && datum.k == 'l'"}],
    "mark": {"type": "text", "align": "left", "baseline": "middle", "fontSize": 18, "fontWeight": "bold"},
    "encoding": {"x": {"field": "x", "type": "quantitative"}, "y": {"field": "y", "type": "quantitative"}, "text": {"field": "t"}}},
   {"data": {"name": "notes"}, "transform": [{"filter": "datum.p == 'F' && datum.k == 'c'"}],
    "mark": {"type": "text", "align": "center", "baseline": "middle", "fontSize": 15.5},
    "encoding": {"x": {"field": "x", "type": "quantitative"}, "y": {"field": "y", "type": "quantitative"}, "text": {"field": "t"}}},
   {"data": {"name": "notes"}, "transform": [{"filter": "datum.p == 'F' && datum.k == 'g'"}],
    "mark": {"type": "text", "align": "center", "baseline": "middle", "fontSize": 14.5},
    "encoding": {"x": {"field": "x", "type": "quantitative"}, "y": {"field": "y", "type": "quantitative"}, "text": {"field": "t"}}}
  ]}
]
}
